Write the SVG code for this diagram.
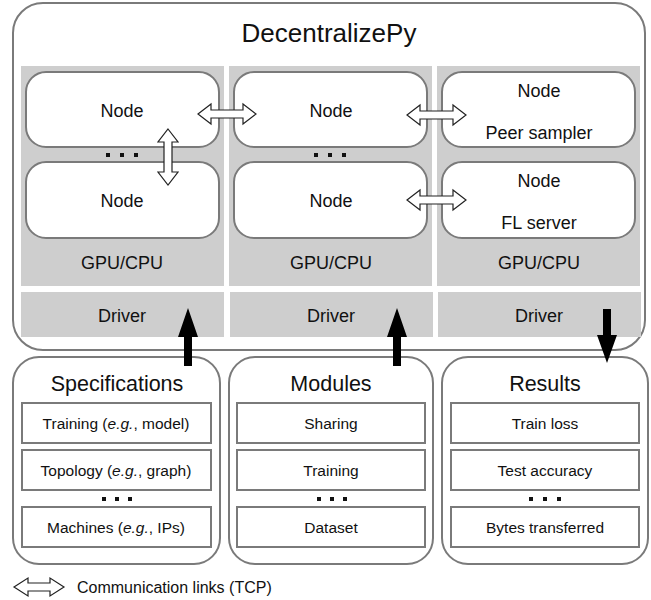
<svg xmlns="http://www.w3.org/2000/svg" width="651" height="600" viewBox="0 0 651 600">
<style>
text{font-family:"Liberation Sans",Arial,sans-serif;fill:#111;text-anchor:middle}
.outer{fill:#fff;stroke:#7a7a7a;stroke-width:2}
.gray{fill:#cecece}
.node{fill:#fff;stroke:#7a7a7a;stroke-width:2}
.item{fill:#fff;stroke:#7a7a7a;stroke-width:2}
.t18{font-size:18px}
.ttl{font-size:21.5px}
.t15{font-size:15.5px}
.dbl{fill:#fff;stroke:#222;stroke-width:1.2}
.blk{fill:#000}
.dot{fill:#111}
</style>
<g id="decentralizepy">
<rect class="outer" x="13" y="3" width="632" height="347" rx="30"/>
<text x="329" y="42" style="font-size:26px">DecentralizePy</text>
</g>
<g id="col1">
<rect class="gray" x="21" y="66" width="203" height="220"/>
<text class="t18" x="122" y="269">GPU/CPU</text>
</g>
<g id="col2">
<rect class="gray" x="229" y="66" width="203" height="220"/>
<text class="t18" x="331" y="269">GPU/CPU</text>
</g>
<g id="col3">
<rect class="gray" x="437" y="66" width="203" height="220"/>
<text class="t18" x="539" y="269">GPU/CPU</text>
</g>
<g id="driver1">
<rect class="gray" x="21" y="292" width="203" height="45"/>
<text class="t18" x="122" y="322">Driver</text>
</g>
<g id="driver2">
<rect class="gray" x="230" y="292" width="203" height="45"/>
<text class="t18" x="331" y="322">Driver</text>
</g>
<g id="driver3">
<rect class="gray" x="438" y="292" width="203" height="45"/>
<text class="t18" x="539" y="322">Driver</text>
</g>
<g id="node1a">
<rect class="node" x="26" y="72" width="193" height="75" rx="20"/>
<text class="t18" x="122" y="117">Node</text>
</g>
<g id="node1b">
<rect class="node" x="26" y="162" width="193" height="76" rx="20"/>
<text class="t18" x="122" y="207">Node</text>
</g>
<g id="node2a">
<rect class="node" x="234" y="72" width="193" height="75" rx="20"/>
<text class="t18" x="331" y="117">Node</text>
</g>
<g id="node2b">
<rect class="node" x="234" y="162" width="193" height="76" rx="20"/>
<text class="t18" x="331" y="207">Node</text>
</g>
<g id="node3a">
<rect class="node" x="442" y="72" width="193" height="75" rx="20"/>
<text class="t18" x="539" y="97">Node</text>
<text class="t18" x="539" y="139">Peer sampler</text>
</g>
<g id="node3b">
<rect class="node" x="442" y="162" width="193" height="76" rx="20"/>
<text class="t18" x="539" y="187">Node</text>
<text class="t18" x="539" y="229">FL server</text>
</g>
<g id="dots-top">
<rect class="dot" x="106" y="153" width="4" height="4"/>
<rect class="dot" x="120" y="153" width="4" height="4"/>
<rect class="dot" x="134" y="153" width="4" height="4"/>
<rect class="dot" x="314" y="153" width="4" height="4"/>
<rect class="dot" x="328" y="153" width="4" height="4"/>
<rect class="dot" x="342" y="153" width="4" height="4"/>
</g>
<g id="specifications">
<rect class="outer" x="13" y="357" width="207" height="207" rx="26"/>
<text class="ttl" x="117" y="391">Specifications</text>
<rect class="item" x="22" y="403" width="189" height="40"/>
<text class="t15" x="116" y="429">Training (<tspan font-style="italic">e.g.</tspan>, model)</text>
<rect class="item" x="22" y="450" width="189" height="40"/>
<text class="t15" x="116" y="476">Topology (<tspan font-style="italic">e.g.</tspan>, graph)</text>
<rect class="dot" x="102" y="497" width="4" height="4"/>
<rect class="dot" x="115" y="497" width="4" height="4"/>
<rect class="dot" x="128" y="497" width="4" height="4"/>
<rect class="item" x="22" y="507" width="189" height="40"/>
<text class="t15" x="116" y="533">Machines (<tspan font-style="italic">e.g.</tspan>, IPs)</text>
</g>
<g id="modules">
<rect class="outer" x="229" y="357" width="204" height="207" rx="26"/>
<text class="ttl" x="331" y="391">Modules</text>
<rect class="item" x="237" y="403" width="188" height="40"/>
<text class="t15" x="331" y="429">Sharing</text>
<rect class="item" x="237" y="450" width="188" height="40"/>
<text class="t15" x="331" y="476">Training</text>
<rect class="dot" x="317" y="497" width="4" height="4"/>
<rect class="dot" x="330" y="497" width="4" height="4"/>
<rect class="dot" x="343" y="497" width="4" height="4"/>
<rect class="item" x="237" y="507" width="188" height="40"/>
<text class="t15" x="331" y="533">Dataset</text>
</g>
<g id="results">
<rect class="outer" x="442" y="357" width="206" height="207" rx="26"/>
<text class="ttl" x="545" y="391">Results</text>
<rect class="item" x="451" y="403" width="188" height="40"/>
<text class="t15" x="545" y="429">Train loss</text>
<rect class="item" x="451" y="450" width="188" height="40"/>
<text class="t15" x="545" y="476">Test accuracy</text>
<rect class="dot" x="529" y="497" width="4" height="4"/>
<rect class="dot" x="543" y="497" width="4" height="4"/>
<rect class="dot" x="557" y="497" width="4" height="4"/>
<rect class="item" x="451" y="507" width="188" height="40"/>
<text class="t15" x="545" y="533">Bytes transferred</text>
</g>
<g id="connectors">
<polygon class="dbl" points="198,114 211,104 211,110 243,110 243,104 256,114 243,124 243,118 211,118 211,124"/>
<polygon class="dbl" points="407,115 420,105 420,111 453,111 453,105 466,115 453,125 453,119 420,119 420,125"/>
<polygon class="dbl" points="407,200 420,190 420,196 453,196 453,190 466,200 453,210 453,204 420,204 420,210"/>
<polygon class="dbl" points="168,129 178,142 172,142 172,172 178,172 168,185 158,172 164,172 164,142 158,142"/>
<polygon class="blk" points="188,308 198,337 192,337 192,366 184,366 184,337 178,337"/>
<polygon class="blk" points="397,308 407,337 401,337 401,366 393,366 393,337 387,337"/>
<polygon class="blk" points="607,363 597,335 603,335 603,309 611,309 611,335 617,335"/>
</g>
<g id="legend">
<polygon class="dbl" points="14,587 28,578 28,583 50,583 50,578 64,587 50,596 50,591 28,591 28,596"/>
<text x="77" y="593" style="text-anchor:start;font-size:16px">Communication links (TCP)</text>
</g>
</svg>
